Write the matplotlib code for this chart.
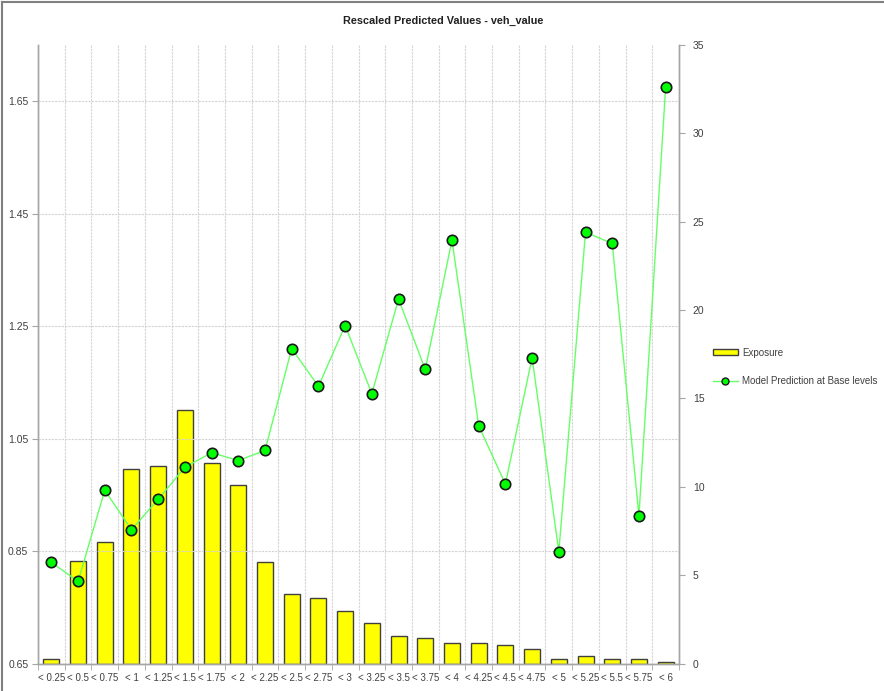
import matplotlib
matplotlib.use("Agg")
import matplotlib.pyplot as plt
import numpy as np
from matplotlib.lines import Line2D
from matplotlib.patches import Patch

categories = ["< 0.25", "< 0.5", "< 0.75", "< 1", "< 1.25", "< 1.5", "< 1.75", "< 2",
              "< 2.25", "< 2.5", "< 2.75", "< 3", "< 3.25", "< 3.5", "< 3.75", "< 4",
              "< 4.25", "< 4.5", "< 4.75", "< 5", "< 5.25", "< 5.5", "< 5.75", "< 6"]
exposure = [0.25, 5.82, 6.89, 10.99, 11.17, 14.34, 11.33, 10.12,
            5.72, 3.92, 3.70, 2.96, 2.32, 1.55, 1.45, 1.15,
            1.15, 1.04, 0.81, 0.28, 0.40, 0.24, 0.28, 0.10]
prediction = [0.830, 0.796, 0.958, 0.888, 0.942, 0.999, 1.025, 1.011,
              1.029, 1.210, 1.143, 1.251, 1.130, 1.298, 1.173, 1.403,
              1.073, 0.969, 1.194, 0.849, 1.417, 1.397, 0.913, 1.675]
left_ticks = [0.65, 0.85, 1.05, 1.25, 1.45, 1.65]
right_ticks = [0, 5, 10, 15, 20, 25, 30, 35]

plt.rcParams["font.family"] = ["Liberation Sans", "DejaVu Sans"]

W, H = 884, 691
fig = plt.figure(figsize=(W / 100, H / 100), dpi=100)
ax = fig.add_axes([38 / W, 1 - 663.5 / H, (679 - 38) / W, (663.5 - 45) / H])
ax2 = ax.twinx()

x = np.arange(len(categories))
gray = "#A6A6A6"
txt = "#404040"

# bars on secondary (right) axis
ax2.bar(x, exposure, width=0.6, color="#FFFF00", edgecolor="#404040", linewidth=1.0, zorder=2)
ax2.set_ylim(0, 35)
ax2.set_yticks(right_ticks)

# line on primary (left) axis drawn above bars
ax.set_zorder(ax2.get_zorder() + 1)
ax.patch.set_visible(False)
ax.plot(x, prediction, color="#66FF66", linewidth=1.0, marker="o", markersize=7.5,
        markerfacecolor="#00FF00", markeredgecolor="#1A1A1A", markeredgewidth=1.2, zorder=5)
ax.set_ylim(0.65, 1.75)
ax.set_yticks(left_ticks)
ax.set_yticklabels([f"{v:.2f}" for v in left_ticks])
ax.set_xlim(-0.5, len(categories) - 0.5)
ax.set_xticks(x)
ax.set_xticklabels(categories)
ax.set_xticks(np.arange(-0.5, len(categories) + 0.5, 1), minor=True)

# grids
ax.grid(True, axis="y", which="major", color="#D4D4D4", linestyle=(0, (2, 1)), linewidth=0.8)
ax.grid(True, axis="x", which="minor", color="#D4D4D4", linestyle=(0, (2, 1)), linewidth=0.8)
ax.grid(False, axis="x", which="major")
ax2.grid(False)

for a in (ax, ax2):
    for s in a.spines.values():
        s.set_color(gray)
        s.set_linewidth(1.0)
    a.spines["top"].set_visible(False)

ax.tick_params(axis="x", which="major", length=0, pad=7, labelsize=7, labelcolor=txt)
ax.tick_params(axis="x", which="minor", length=4, color=gray)
ax.tick_params(axis="y", length=4, color=gray, labelsize=7.5, labelcolor=txt, pad=3)
ax2.tick_params(axis="y", length=4, color=gray, labelsize=7.5, labelcolor=txt, pad=6)

fig.text(443 / W, 1 - 21 / H, "Rescaled Predicted Values - veh_value",
         ha="center", va="center", fontsize=7.8, fontweight="bold",
         family=["Liberation Sans Narrow", "Liberation Sans", "DejaVu Sans"], color="#202020")

handles = [Patch(facecolor="#FFFF00", edgecolor="#404040", linewidth=1.0),
           Line2D([0], [0], color="#66FF66", linewidth=1.0, marker="o", markersize=5,
                  markerfacecolor="#00FF00", markeredgecolor="#1A1A1A")]
fig.legend(handles, ["Exposure", "Model Prediction at Base levels"],
           loc="center left", bbox_to_anchor=(706 / W, 1 - 367 / H), frameon=False,
           fontsize=7, labelspacing=1.9, handlelength=2.6, handleheight=0.55,
           handletextpad=0.4, labelcolor=txt, borderpad=0.2)

# chart border (left and top)
fig.add_artist(Line2D([2 / W, 2 / W], [0, 1 - 2 / H], transform=fig.transFigure,
                      color="#808080", linewidth=1.5))
fig.add_artist(Line2D([2 / W, 1], [1 - 2 / H, 1 - 2 / H], transform=fig.transFigure,
                      color="#808080", linewidth=1.5))

fig.savefig("out.png", dpi=100)
